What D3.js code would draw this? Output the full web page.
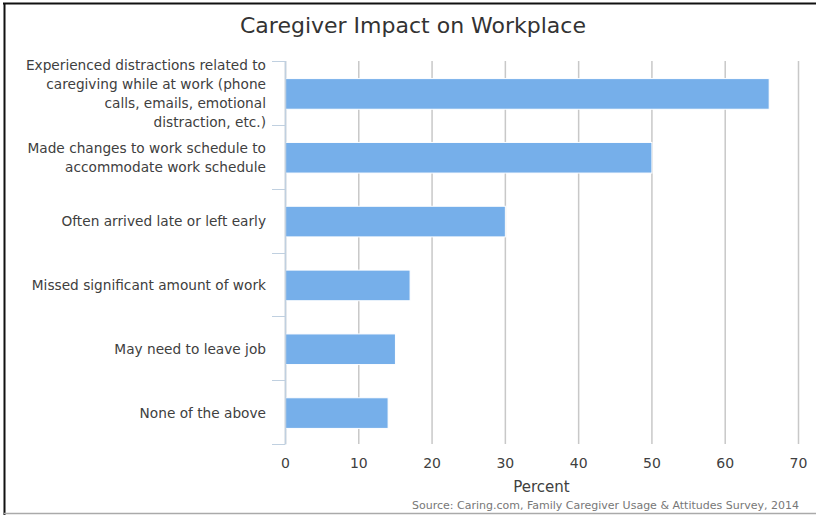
<!DOCTYPE html>
<html>
<head>
<meta charset="utf-8">
<script src="https://cdn.jsdelivr.net/npm/d3@7"></script>
<style>
  body { margin: 0; background: #fff; }
  svg { display: block; }
</style>
</head>
<body>
<div id="my_dataviz"></div>
<script>
// data
var categories = [
  "Experienced distractions related to\ncaregiving while at work (phone\ncalls, emails, emotional\ndistraction, etc.)",
  "Made changes to work schedule to\naccommodate work schedule",
  "Often arrived late or left early",
  "Missed significant amount of work",
  "May need to leave job",
  "None of the above"
];
var values = [66, 50, 30, 17, 15, 14];
var xTicks = [0, 10, 20, 30, 40, 50, 60, 70];

var titleText = "Caregiver Impact on Workplace";
var xTitle = "Percent";
var sourceText = "Source: Caring.com, Family Caregiver Usage & Attitudes Survey, 2014";

var fullW = 816, fullH = 515;
var margin = {top: 61, right: 18, bottom: 71, left: 285},
    width = fullW - margin.left - margin.right,
    height = fullH - margin.top - margin.bottom;

var font = "'DejaVu Sans', sans-serif";

var root = d3.select("#my_dataviz")
  .append("svg")
    .attr("width", fullW)
    .attr("height", fullH);

// frame lines (screenshot border)
root.append("line")
  .attr("x1", 3).attr("x2", fullW).attr("y1", 3.5).attr("y2", 3.5)
  .attr("stroke", "#111").attr("stroke-width", 2);
root.append("line")
  .attr("x1", 4.5).attr("x2", 4.5).attr("y1", 3).attr("y2", fullH)
  .attr("stroke", "#111").attr("stroke-width", 2);
root.append("line")
  .attr("x1", 4).attr("x2", fullW).attr("y1", 513.5).attr("y2", 513.5)
  .attr("stroke", "#aaa").attr("stroke-width", 1.5);

// title
root.append("text")
  .attr("x", 413)
  .attr("y", 33)
  .attr("text-anchor", "middle")
  .style("font-family", font)
  .style("font-size", "22px")
  .style("fill", "#333")
  .text(titleText);

var svg = root.append("g")
  .attr("transform", "translate(" + margin.left + "," + margin.top + ")");

// scales
var x = d3.scaleLinear()
  .domain([0, 70])
  .range([0, width]);

var y = d3.scaleBand()
  .domain(categories)
  .range([0, height])
  .padding(0);

// gridlines
svg.append("g")
  .selectAll("line")
  .data(xTicks)
  .enter()
  .append("line")
    .attr("x1", function(d) { return x(d) + 0.5; })
    .attr("x2", function(d) { return x(d) + 0.5; })
    .attr("y1", 0)
    .attr("y2", height)
    .attr("stroke", "#c8c8c8")
    .attr("stroke-width", 1.5);

// bars
var barH = y.bandwidth() * 0.48;
svg.append("g")
  .selectAll("rect")
  .data(values)
  .enter()
  .append("rect")
    .attr("x", x(0) + 0.5)
    .attr("y", function(d, i) { return y(categories[i]) + (y.bandwidth() - barH) / 2 + 1; })
    .attr("width", function(d) { return x(d) - x(0); })
    .attr("height", barH)
    .attr("fill", "#76afea")
    .attr("stroke", "#fff")
    .attr("stroke-width", 1);

// category axis line + boundary ticks
var bounds = categories.map(function(c) { return y(c); }).concat([height]);
svg.append("g")
  .selectAll("line")
  .data(bounds)
  .enter()
  .append("line")
    .attr("x1", -13)
    .attr("x2", 0)
    .attr("y1", function(d) { return Math.round(d) + 0.5; })
    .attr("y2", function(d) { return Math.round(d) + 0.5; })
    .attr("stroke", "#c0d0e0")
    .attr("stroke-width", 1);
svg.append("line")
  .attr("x1", 0.5).attr("x2", 0.5)
  .attr("y1", 0).attr("y2", height + 0.5)
  .attr("stroke", "#c0d0e0")
  .attr("stroke-width", 1.5);

// category labels through axisLeft, then split into lines
var yAxis = svg.append("g")
  .call(d3.axisLeft(y).tickSize(0).tickPadding(19))
  .style("font-family", font)
  .style("font-size", "13.7px");
yAxis.select(".domain").remove();
yAxis.selectAll("text")
  .style("fill", "#404040")
  .each(function(d) {
    var lines = d.split("\n");
    var t = d3.select(this).text(null).attr("dy", null);
    var lh = 19;
    var off = -(lines.length - 1) * lh / 2 + 1;
    lines.forEach(function(line, i) {
      t.append("tspan")
        .attr("x", -19)
        .attr("y", off + i * lh)
        .attr("dy", "0.35em")
        .text(line);
    });
  });

// x axis labels
var xAxis = svg.append("g")
  .attr("transform", "translate(0," + height + ")")
  .call(d3.axisBottom(x).tickValues(xTicks).tickSize(0).tickPadding(14))
  .style("font-family", font)
  .style("font-size", "14px");
xAxis.select(".domain").remove();
xAxis.selectAll("text").style("fill", "#404040");

// x axis title
svg.append("text")
  .attr("x", width / 2)
  .attr("y", height + 48)
  .attr("text-anchor", "middle")
  .style("font-family", font)
  .style("font-size", "15px")
  .style("fill", "#404040")
  .text(xTitle);

// source
root.append("text")
  .attr("x", 799)
  .attr("y", 509)
  .attr("text-anchor", "end")
  .style("font-family", font)
  .style("font-size", "11px")
  .style("fill", "#777")
  .text(sourceText);
</script>
</body>
</html>
